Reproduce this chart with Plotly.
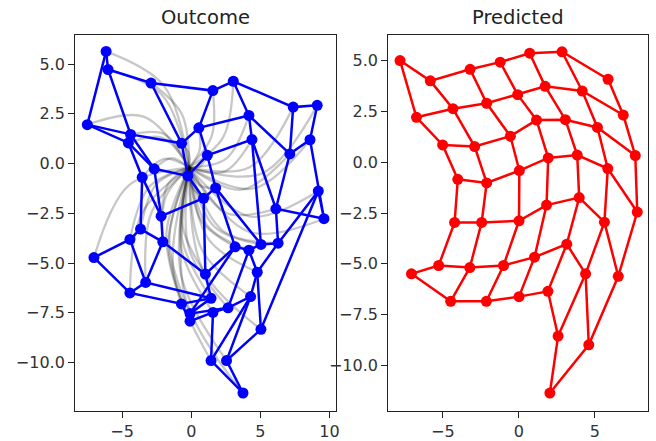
import plotly.graph_objects as go

N = 7  # 7 x 7 grid, row-major order

# Outcome (blue) node positions
outcome_x = [
    -6.16, -6.02, -2.91, 1.56, 3.04, 7.37, 9.11,
    -7.52, -4.39, -0.70, 0.55, 4.17, 7.13, 8.59,
    -4.55, -2.68, -0.25, 1.16, 4.39, 6.12, 9.60,
    -3.55, -2.18, 0.89, 1.76, 5.04, 6.28, 9.19,
    -3.67, -2.06, 1.02, 3.17, 4.17, 4.77, 5.04,
    -4.44, -3.30, 1.43, -0.09, 2.66, 4.29, 2.55,
    -7.04, -4.44, -0.71, -0.09, 1.57, 1.43, 3.74]
outcome_y = [
    5.64, 4.73, 4.05, 3.67, 4.14, 2.84, 2.93,
    1.96, 1.47, 1.02, 1.80, 2.42, 0.49, 1.20,
    1.04, -0.26, -0.62, 0.42, 1.21, -2.27, -2.77,
    -0.69, -2.64, -1.74, -1.22, -4.06, -4.00, -1.38,
    -3.29, -3.93, -5.55, -4.18, -4.35, -5.46, -8.33,
    -3.81, -5.97, -6.77, -7.54, -7.25, -6.68, -9.90,
    -4.72, -6.50, -7.05, -7.92, -7.48, -9.90, -11.53]

# Predicted (red) node positions
pred_x = [
    -7.82, -5.83, -3.21, -1.23, 0.71, 2.84, 5.87,
    -6.74, -4.34, -2.12, -0.08, 1.73, 4.17, 6.87,
    -5.02, -2.91, -0.56, 1.16, 3.06, 5.17, 7.66,
    -4.02, -2.12, 0.03, 1.93, 3.84, 5.85, 7.79,
    -4.23, -2.45, 0.01, 1.82, 3.97, 5.63, 6.54,
    -5.28, -3.23, -1.01, 1.03, 3.15, 4.39, 4.60,
    -7.07, -4.49, -2.14, 0.01, 1.91, 2.58, 2.04]
pred_y = [
    5.00, 4.00, 4.57, 4.92, 5.36, 5.43, 4.08,
    2.21, 2.63, 2.90, 3.32, 3.73, 3.50, 2.32,
    0.85, 0.77, 1.28, 2.07, 2.09, 1.71, 0.33,
    -0.84, -1.02, -0.41, 0.21, 0.35, -0.31, -2.45,
    -2.96, -2.96, -2.88, -2.11, -1.74, -2.95, -5.61,
    -5.08, -5.18, -5.08, -4.67, -4.03, -5.49, -8.98,
    -5.49, -6.84, -6.84, -6.61, -6.35, -8.55, -11.35]

# Gray trajectories: common start, one read mid point each, end at outcome node
traj_start_x = -0.15
traj_start_y = -0.20
traj_mid_x = [
    -1.99, -2.10, -0.68, 1.48, 2.31, 4.22, 5.11,
    -3.40, -1.94, -0.18, 0.60, 2.53, 3.63, 4.50,
    -2.10, -1.43, -0.28, 0.63, 2.40, 2.57, 4.21,
    -1.95, -1.65, 0.06, 0.60, 1.67, 2.31, 4.28,
    -2.53, -1.85, -0.64, 0.71, 1.18, 1.26, 0.82,
    -3.02, -2.88, -0.67, -1.59, -0.16, 0.77, -0.74,
    -4.50, -3.56, -1.80, -1.66, -0.75, -1.30, -0.47]
traj_mid_y = [
    3.92, 3.44, 2.48, 1.39, 1.33, -0.18, -0.49,
    2.35, 1.48, 0.52, 0.66, 0.25, -1.31, -1.25,
    1.30, 0.28, -0.39, -0.15, -0.40, -2.49, -3.44,
    0.24, -1.01, -1.18, -1.09, -3.17, -3.39, -2.66,
    -1.04, -1.68, -3.11, -2.85, -3.14, -3.81, -5.30,
    -1.15, -2.46, -3.80, -3.88, -4.29, -4.33, -5.59,
    -1.08, -2.49, -3.51, -4.07, -4.18, -5.37, -6.64]

y_ticks = [5.0, 2.5, 0.0, -2.5, -5.0, -7.5, -10.0]
y_tick_text = ["5.0", "2.5", "0.0", "\u22122.5", "\u22125.0", "\u22127.5", "\u221210.0"]
x_ticks_left = [-5, 0, 5, 10]
x_ticks_right = [-5, 0, 5]


def grid_lines(xs, ys):
    ex, ey = [], []
    for i in range(N):
        for j in range(N):
            ex.append(xs[i * N + j]); ey.append(ys[i * N + j])
        ex.append(None); ey.append(None)
    for j in range(N):
        for i in range(N):
            ex.append(xs[i * N + j]); ey.append(ys[i * N + j])
        ex.append(None); ey.append(None)
    return ex, ey


fig = go.Figure()

for k in range(N * N):
    fig.add_trace(go.Scatter(
        x=[traj_start_x, traj_mid_x[k], outcome_x[k]],
        y=[traj_start_y, traj_mid_y[k], outcome_y[k]],
        mode="lines", line=dict(color="rgba(0,0,0,0.22)", width=2.3, shape="spline", smoothing=1.0),
        xaxis="x", yaxis="y", hoverinfo="skip", showlegend=False))

bx, by = grid_lines(outcome_x, outcome_y)
fig.add_trace(go.Scatter(x=bx, y=by, mode="lines", line=dict(color="#0000ff", width=2.5),
                         xaxis="x", yaxis="y", showlegend=False, connectgaps=False))
fig.add_trace(go.Scatter(x=outcome_x, y=outcome_y, mode="markers",
                         marker=dict(color="#0000ff", size=11, line=dict(width=0)),
                         xaxis="x", yaxis="y", showlegend=False))

rx, ry = grid_lines(pred_x, pred_y)
fig.add_trace(go.Scatter(x=rx, y=ry, mode="lines", line=dict(color="#ff0000", width=2.5),
                         xaxis="x2", yaxis="y2", showlegend=False, connectgaps=False))
fig.add_trace(go.Scatter(x=pred_x, y=pred_y, mode="markers",
                         marker=dict(color="#ff0000", size=11, line=dict(width=0)),
                         xaxis="x2", yaxis="y2", showlegend=False))

axis_common = dict(showline=True, mirror=True, linecolor="#222", linewidth=1.2,
                   ticks="outside", ticklen=6, tickwidth=1.2, tickcolor="#222",
                   showgrid=False, zeroline=False,
                   tickfont=dict(family="DejaVu Sans", size=16, color="#333"))

fig.update_layout(
    width=656, height=441,
    margin=dict(l=0, r=0, t=0, b=0),
    paper_bgcolor="white", plot_bgcolor="white",
    font=dict(family="DejaVu Sans", color="#333"),
    xaxis=dict(domain=[0.1151, 0.5152], range=[-8.4, 10.5], anchor="y",
               tickmode="array", tickvals=x_ticks_left,
               ticktext=[("\u2212" + str(-v)) if v < 0 else str(v) for v in x_ticks_left],
               **axis_common),
    yaxis=dict(domain=[0.0687, 0.9213], range=[-12.42, 6.48], anchor="x",
               tickmode="array", tickvals=y_ticks, ticktext=y_tick_text, **axis_common),
    xaxis2=dict(domain=[0.5945, 0.9924], range=[-8.6, 8.5], anchor="y2",
                tickmode="array", tickvals=x_ticks_right,
                ticktext=[("\u2212" + str(-v)) if v < 0 else str(v) for v in x_ticks_right],
                **axis_common),
    yaxis2=dict(domain=[0.0687, 0.9213], range=[-12.22, 6.27], anchor="x2",
                tickmode="array", tickvals=y_ticks, ticktext=y_tick_text, **axis_common),
    annotations=[
        dict(text="Outcome", x=0.3152, y=0.9603, xref="paper", yref="paper",
             xanchor="center", yanchor="middle", showarrow=False,
             font=dict(family="DejaVu Sans", size=19.5, color="#222")),
        dict(text="Predicted", x=0.7935, y=0.9603, xref="paper", yref="paper",
             xanchor="center", yanchor="middle", showarrow=False,
             font=dict(family="DejaVu Sans", size=19.5, color="#222")),
    ],
)

fig.write_html("out.html")
